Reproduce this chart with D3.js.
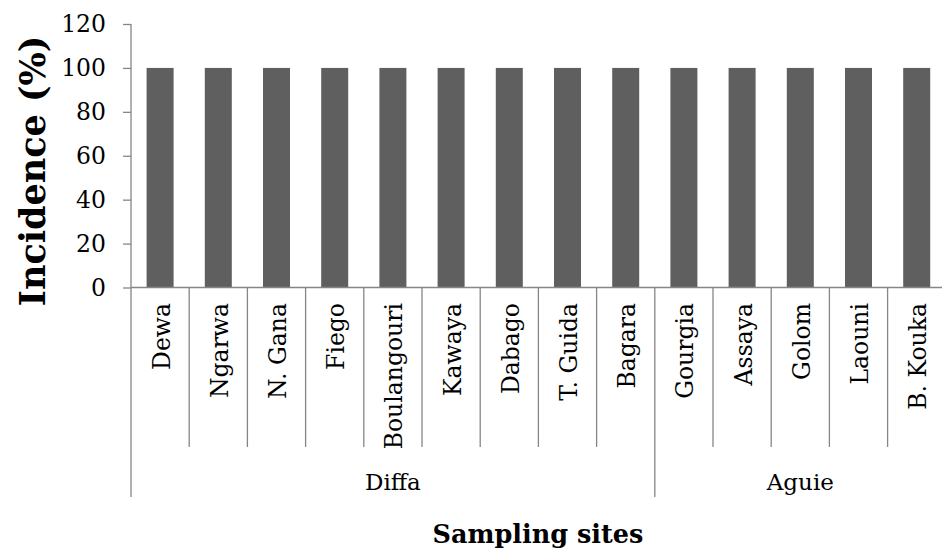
<!DOCTYPE html>
<html>
<head>
<meta charset="utf-8">
<script src="https://cdn.jsdelivr.net/npm/d3@7"></script>
<style>
body{margin:0;background:#fff;}
svg text{font-family:"DejaVu Serif",serif;fill:#000;}
</style>
</head>
<body>
<div id="plot"></div>
<script>
var sites = ['Dewa','Ngarwa','N. Gana','Fiego','Boulangouri','Kawaya','Dabago','T. Guida','Bagara',
	'Gourgia','Assaya','Golom','Laouni','B. Kouka'];
var regions = ['Diffa','Diffa','Diffa','Diffa','Diffa','Diffa','Diffa','Diffa','Diffa',
	'Aguie','Aguie','Aguie','Aguie','Aguie'];
var incidence = [100,100,100,100,100,100,100,100,100,100,100,100,100,100];
var yTicks = [0,20,40,60,80,100,120];

var W = 942, H = 554,
	m = {t:24,l:131,b:266.5},
	step = 58.2;

var svg = d3.select('#plot').append('svg')
	.attr('width',W).attr('height',H);

var x = d3.scaleBand()
	.domain(sites)
	.range([m.l, m.l + step*sites.length])
	.paddingInner(0.536)
	.paddingOuter(0.268);

var y = d3.scaleLinear()
	.domain([0,120])
	.range([H - m.b, m.t]);

var axisCol = '#868686';

//bars
svg.selectAll('.bar').data(sites)
	.enter().append('rect')
	.attr('class','bar')
	.attr('x',function(d){return x(d)})
	.attr('width',x.bandwidth())
	.attr('y',function(d,i){return y(incidence[i])})
	.attr('height',function(d,i){return y(0) - y(incidence[i])})
	.style('fill','#5f5f5f');

//y axis
var yAxis = svg.append('g')
	.attr('transform','translate('+m.l+',0)')
	.call(d3.axisLeft(y).tickValues(yTicks).tickSize(8).tickPadding(17));
yAxis.selectAll('path,line').style('stroke',axisCol).style('stroke-width',1.3);
yAxis.select('.domain').attr('d','M0,'+y(0)+'V'+y(120));
yAxis.selectAll('text').style('font-size','23.5px').style('font-family','"DejaVu Serif",serif').attr('fill','#000');

//x axis line
svg.append('line')
	.attr('x1',m.l).attr('x2',W)
	.attr('y1',y(0)).attr('y2',y(0))
	.style('stroke',axisCol).style('stroke-width',1.5);

//category dividers
var bounds = d3.range(sites.length + 1).map(function(i){return m.l + step*i});
svg.selectAll('.div').data(bounds)
	.enter().append('line')
	.attr('x1',function(d){return d}).attr('x2',function(d){return d})
	.attr('y1',y(0))
	.attr('y2',function(d,i){
		var isGroup = i === 0 || i === sites.length || regions[i] !== regions[i-1];
		return isGroup ? 497 : 447;
	})
	.style('stroke',axisCol).style('stroke-width',1.3);

//category labels
svg.selectAll('.cat').data(sites)
	.enter().append('text')
	.attr('transform',function(d){
		return 'translate('+(x(d)+x.bandwidth()/2+1)+',303) rotate(-90)';
	})
	.attr('text-anchor','end')
	.attr('dy','0.36em')
	.style('font-size','23.5px')
	.text(function(d){return d});

//group labels
var groups = [];
regions.forEach(function(r,i){
	var last = groups[groups.length-1];
	if(!last || last.name !== r) groups.push({name:r,start:i,end:i});
	else last.end = i;
});
svg.selectAll('.grp').data(groups)
	.enter().append('text')
	.attr('x',function(d){return (m.l + step*d.start + m.l + step*(d.end+1))/2})
	.attr('y',490)
	.attr('text-anchor','middle')
	.style('font-size','23px')
	.text(function(d){return d.name});

//axis titles
svg.append('text')
	.attr('transform','translate(45,171) rotate(-90)')
	.attr('text-anchor','middle')
	.style('font-size','35px').style('font-weight','bold')
	.text('Incidence (%)');

svg.append('text')
	.attr('x',538).attr('y',543)
	.attr('text-anchor','middle')
	.style('font-size','25.5px').style('font-weight','bold')
	.text('Sampling sites');
</script>
</body>
</html>
